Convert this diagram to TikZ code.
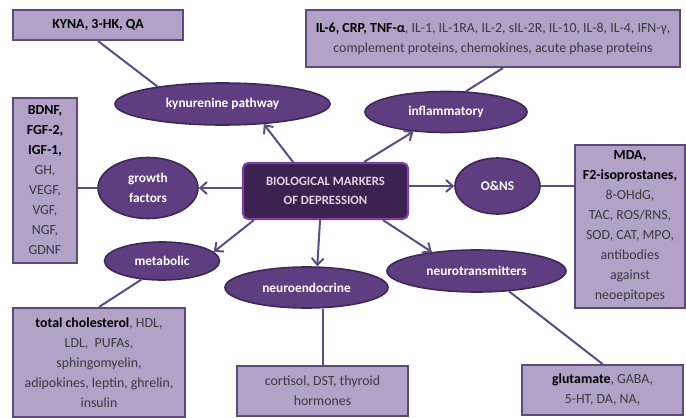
\documentclass[tikz,border=0pt]{standalone}
\usepackage{fontspec}
\setmainfont{Carlito}
\usetikzlibrary{shapes.geometric,arrows.meta,backgrounds,calc}
\newlength\upx
\setlength\upx{0.75pt}
\definecolor{boxfill}{HTML}{B3A2C7}
\definecolor{boxline}{HTML}{5F497A}
\definecolor{ellfill}{HTML}{5E3E80}
\definecolor{ellline}{HTML}{3E2856}
\definecolor{cfill}{HTML}{3C2250}
\definecolor{cline}{HTML}{7E40A8}
\definecolor{conn}{HTML}{5C4C82}
\definecolor{btext}{HTML}{3A3A3A}
\definecolor{ctext}{HTML}{DCD4E4}
\newcommand\mybold[1]{\textbf{\color{black}#1}}
\begin{document}
\begin{tikzpicture}[x=0.75pt,y=-0.75pt,
  infobox/.style={draw=boxline,fill=boxfill,line width=1.5pt,inner sep=0pt,align=center,
    font=\fontsize{10.4}{15}\selectfont,text=btext},
  ell/.style={ellipse,draw=ellline,fill=ellfill,line width=1.2pt,inner sep=0pt,align=center,
    font=\fontsize{10}{15}\selectfont\bfseries,text=white},
  mainbox/.style={rectangle,rounded corners=4pt,draw=cline,fill=cfill,line width=1.6pt,
    inner sep=0pt,align=center,font=\fontsize{9.5}{14.3}\selectfont\bfseries,text=ctext},
  link/.style={draw=conn,line width=1.5pt},
  arr/.style={link,-{Straight Barb[length=5pt,width=9pt]}}
]
\useasboundingbox (0,0) rectangle (686,418);

% info boxes
\node[infobox,minimum width=170\upx,minimum height=30\upx] (kyna) at (98,25)
  {\mybold{KYNA, 3-HK, QA}};
\node[infobox,minimum width=374\upx,minimum height=57\upx] (inflbox) at (493,38.5)
  {\mybold{IL-6, CRP, TNF-α}, IL-1, IL-1RA, IL-2, sIL-2R, IL-10, IL-8, IL-4, IFN-γ,\\
   complement proteins, chemokines, acute phase proteins};
\node[infobox,minimum width=64\upx,minimum height=165\upx] (bdnf) at (45,180.5)
  {\mybold{BDNF,}\\\mybold{FGF-2,}\\\mybold{IGF-1,}\\GH,\\VEGF,\\VGF,\\NGF,\\GDNF};
\node[infobox,minimum width=110\upx,minimum height=163\upx] (mda) at (630,226.5)
  {\mybold{MDA,}\\\mybold{F2-isoprostanes,}\\8-OHdG,\\TAC, ROS/RNS,\\SOD, CAT, MPO,\\antibodies\\against\\neoepitopes};
\node[infobox,minimum width=172\upx,minimum height=109\upx] (chol) at (99,362.5)
  {\mybold{total cholesterol}, HDL,\\LDL,\ \ PUFAs,\\sphingomyelin,\\adipokines, leptin, ghrelin,\\insulin};
\node[infobox,minimum width=171\upx,minimum height=50\upx] (cort) at (322.5,391)
  {cortisol, DST, thyroid\\hormones};
\node[infobox,minimum width=161\upx,minimum height=50\upx] (glu) at (602.5,390)
  {\mybold{glutamate}, GABA,\\5-HT, DA, NA,};

% ellipses
\node[ell,minimum width=215\upx,minimum height=42\upx] (kyn) at (222.5,104) {kynurenine pathway};
\node[ell,minimum width=162\upx,minimum height=41\upx] (infl) at (446,112) {inflammatory};
\node[ell,minimum width=100\upx,minimum height=61\upx] (gf) at (148,188) {growth\\factors};
\node[ell,minimum width=115\upx,minimum height=38\upx] (met) at (162,261) {metabolic};
\node[ell,minimum width=163\upx,minimum height=41\upx] (neuro) at (306.5,287.5) {neuroendocrine};
\node[ell,minimum width=179\upx,minimum height=42\upx] (nt) at (476.5,271) {neurotransmitters};
\node[ell,minimum width=85\upx,minimum height=56\upx] (ons) at (497.5,186) {O\&NS};

% central box
\node[mainbox,minimum width=165\upx,minimum height=56\upx] (c) at (325.5,191)
  {BIOLOGICAL MARKERS\\OF DEPRESSION};

\begin{scope}[on background layer]
  \draw[link] (kyna.south) -- (kyn.165);
  \draw[link] ([xshift=7.5pt]inflbox.south) -- (infl.46);
  \draw[link] (gf.west) -- (gf.west -| bdnf.east);
  \draw[link] (chol.north) -- (met.-138);
  \draw[link] (cort.north) -- (cort.north |- neuro.south);
  \draw[link] (glu.north) -- (nt.-32);
  \draw[link] (ons.east) -- (ons.east -| mda.west);
\end{scope}

\draw[arr] ([xshift=-24.4pt]c.north) -- (kyn.-26);
\draw[arr] ([xshift=28.9pt]c.north) -- (infl.-149);
\draw[arr] (ons.west -| c.east) -- (ons.west);
\draw[arr] ([xshift=43.1pt]c.south) -- (nt.157);
\draw[arr] ([xshift=-4.1pt]c.south) -- (neuro.63);
\draw[arr] (gf.east -| c.west) -- (gf.east);
\draw[arr] ([xshift=9pt]c.south west) -- (met.10);
\end{tikzpicture}
\end{document}
